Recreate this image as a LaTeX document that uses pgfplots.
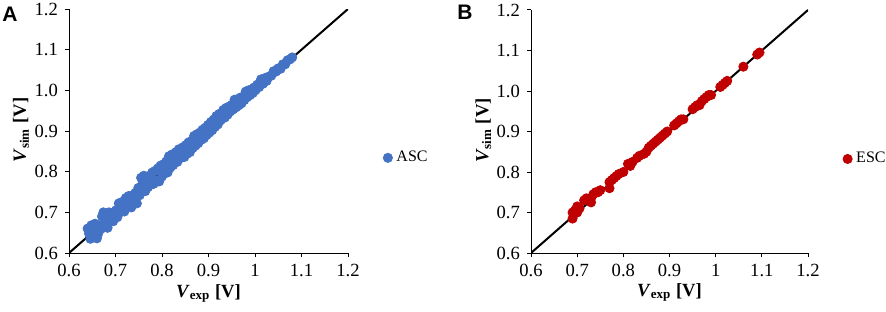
\documentclass[border=0pt]{standalone}
\usepackage{pgfplots}
\pgfplotsset{compat=1.18}
\usepackage{fontspec}
\setmainfont{Liberation Serif}
\newfontfamily\panelfont{Liberation Sans}
\definecolor{ascblue}{HTML}{4472C4}
\definecolor{escred}{HTML}{C00000}

\pgfplotstableread{
x y
0.640 0.660
0.643 0.648
0.646 0.635
0.648 0.668
0.651 0.652
0.654 0.640
0.656 0.672
0.659 0.660
0.660 0.636
0.662 0.645
0.665 0.668
0.668 0.658
0.671 0.690
0.674 0.700
0.677 0.672
0.680 0.695
0.683 0.662
0.686 0.700
0.689 0.685
0.692 0.698
0.695 0.678
0.698 0.692
0.701 0.705
0.704 0.688
0.707 0.722
0.710 0.700
0.713 0.725
0.716 0.712
0.719 0.702
0.722 0.735
0.725 0.718
0.728 0.740
0.731 0.722
0.734 0.712
0.737 0.742
0.740 0.728
0.743 0.748
0.746 0.722
0.749 0.760
0.752 0.742
0.755 0.785
0.758 0.770
0.761 0.790
0.764 0.752
0.767 0.778
0.770 0.762
0.773 0.790
0.776 0.768
0.779 0.798
0.782 0.770
0.785 0.802
0.788 0.778
0.791 0.808
0.794 0.776
0.797 0.815
0.800 0.788
0.803 0.818
0.806 0.796
0.809 0.825
0.812 0.798
0.815 0.838
0.818 0.810
0.821 0.842
0.824 0.816
0.827 0.834
0.830 0.848
0.833 0.824
0.836 0.855
0.839 0.833
0.842 0.850
0.845 0.860
0.848 0.836
0.851 0.865
0.854 0.844
0.857 0.872
0.860 0.848
0.863 0.875
0.866 0.858
0.869 0.888
0.872 0.864
0.875 0.892
0.878 0.870
0.881 0.896
0.884 0.878
0.887 0.903
0.890 0.882
0.893 0.908
0.896 0.890
0.899 0.915
0.902 0.896
0.905 0.922
0.908 0.902
0.911 0.928
0.914 0.910
0.917 0.937
0.920 0.916
0.923 0.942
0.926 0.926
0.929 0.940
0.932 0.952
0.935 0.933
0.938 0.957
0.941 0.940
0.944 0.960
0.947 0.948
0.950 0.964
0.953 0.953
0.956 0.977
0.959 0.958
0.962 0.974
0.965 0.963
0.968 0.982
0.971 0.968
0.974 0.984
0.977 0.976
0.980 0.997
0.983 0.983
0.986 1.000
0.989 0.988
0.992 1.002
0.995 0.993
0.998 1.007
1.001 1.000
1.005 1.014
1.009 1.008
1.013 1.027
1.017 1.016
1.021 1.030
1.025 1.023
1.030 1.034
1.035 1.036
1.040 1.047
1.045 1.046
1.050 1.054
1.055 1.053
1.060 1.064
1.065 1.064
1.070 1.074
1.075 1.076
1.080 1.081
}\asctable

\pgfplotstableread{
x y
0.690 0.685
0.690 0.700
0.695 0.705
0.700 0.715
0.700 0.700
0.705 0.710
0.715 0.730
0.720 0.735
0.730 0.725
0.730 0.735
0.735 0.745
0.740 0.750
0.745 0.750
0.750 0.755
0.770 0.760
0.770 0.775
0.775 0.780
0.780 0.785
0.785 0.790
0.790 0.795
0.800 0.800
0.810 0.820
0.815 0.815
0.820 0.825
0.830 0.835
0.835 0.840
0.845 0.845
0.850 0.850
0.855 0.860
0.860 0.865
0.865 0.870
0.870 0.875
0.875 0.880
0.880 0.885
0.885 0.890
0.890 0.895
0.895 0.900
0.910 0.915
0.915 0.920
0.920 0.925
0.925 0.930
0.930 0.930
0.950 0.955
0.955 0.960
0.960 0.965
0.965 0.965
0.970 0.975
0.975 0.980
0.980 0.985
0.985 0.990
0.990 0.990
1.010 1.010
1.015 1.015
1.020 1.020
1.025 1.025
1.060 1.060
1.090 1.090
1.095 1.095
}\esctable

\pgfplotsset{
  panel/.style={
    scale only axis,
    anchor=south west,
    xmin=0.6, xmax=1.2, ymin=0.6, ymax=1.2,
    axis x line*=bottom, axis y line*=left,
    axis line style={black, line width=0.5pt},
    tick style={black, line width=0.5pt},
    tick align=outside,
    major tick length=2pt,
    xtick={0.6,0.7,0.8,0.9,1.0,1.1,1.2},
    ytick={0.6,0.7,0.8,0.9,1.0,1.1,1.2},
    /pgf/number format/assume math mode=true,
    yticklabel style={/pgf/number format/fixed, /pgf/number format/fixed zerofill, /pgf/number format/precision=1},
    xticklabel style={/pgf/number format/fixed},
    ticklabel style={font=\fontsize{9.3}{10}\selectfont},
    label style={font=\fontsize{9.3}{10}\selectfont},
    xlabel style={at={(axis description cs:0.5,-0.164)}, anchor=center},
    ylabel style={at={(axis description cs:-0.172,0.504)}, anchor=center},
    xlabel={\textbf{\textit{V}\textsubscript{exp} [V]}},
    ylabel={\textbf{\textit{V}\textsubscript{sim} [V]}},
    legend style={draw=none, fill=none, inner sep=0pt, anchor=west,
      font=\fontsize{8}{9}\selectfont},
    legend image code/.code={\draw[##1] plot coordinates {(2pt,0pt)};},
  }
}

\begin{document}
\begin{tikzpicture}
\path[use as bounding box] (0,0) rectangle (443pt,155.5pt);
\node[font=\panelfont\bfseries\fontsize{10.5}{11}\selectfont] at (5pt,148.3pt) {A};
\node[font=\panelfont\bfseries\fontsize{10.5}{11}\selectfont] at (232.5pt,149.3pt) {B};

\begin{axis}[panel, at={(34.5pt,29pt)}, width=139.5pt, height=122pt,
  legend style={at={(axis description cs:1.125,0.39)}}]
\addplot[only marks, mark=*, mark size=2.3pt, color=ascblue, mark options={draw=ascblue, fill=ascblue}] table[x=x,y=y] {\asctable};
\addlegendentry{ASC}
\addplot[black, line width=1pt, forget plot] coordinates {(0.6,0.6) (1.2,1.2)};
\end{axis}

\begin{axis}[panel, at={(265.5pt,29pt)}, width=138.5pt, height=121.5pt,
  legend style={at={(axis description cs:1.125,0.387)}}]
\addplot[only marks, mark=*, mark size=2.3pt, color=escred, mark options={draw=escred, fill=escred}] table[x=x,y=y] {\esctable};
\addlegendentry{ESC}
\addplot[black, line width=1pt, forget plot] coordinates {(0.6,0.6) (1.2,1.2)};
\end{axis}
\end{tikzpicture}
\end{document}
